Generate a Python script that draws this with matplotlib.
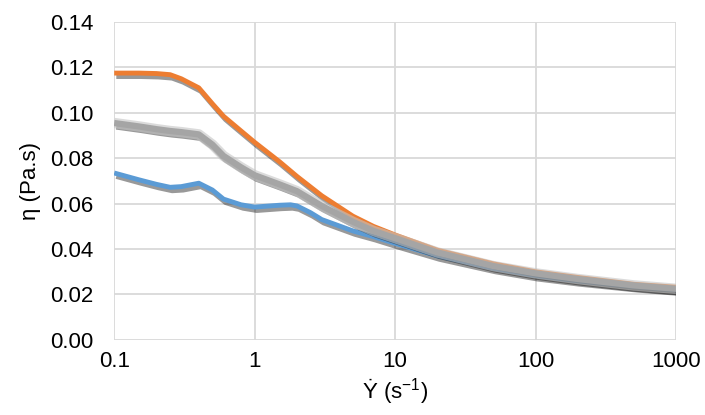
import matplotlib
matplotlib.use("Agg")
import matplotlib.pyplot as plt
import matplotlib.patheffects as pe
from matplotlib.ticker import FixedLocator, FormatStrFormatter

plt.rcParams["font.family"] = ["Liberation Sans", "DejaVu Sans"]
plt.rcParams["mathtext.fontset"] = "custom"
plt.rcParams["mathtext.rm"] = "Liberation Sans"

# ---- DATA ----
shear_a = [0.1, 0.15, 0.2, 0.25, 0.3, 0.4, 0.5, 0.6, 0.8, 1, 1.5, 2, 3, 5, 7, 10,
           20, 50, 100, 200, 500, 1000]
orange_visc = [0.1175, 0.1175, 0.1173, 0.1168, 0.1150, 0.1110, 0.1040, 0.0985,
               0.0920, 0.0870, 0.0785, 0.0720, 0.0635, 0.0545, 0.0500, 0.0462,
               0.0395, 0.0335, 0.0300, 0.0275, 0.0245, 0.0232]
gray_visc = [0.0955, 0.0940, 0.0928, 0.0920, 0.0915, 0.0905, 0.0860, 0.0810,
             0.0760, 0.0725, 0.0685, 0.0655, 0.0590, 0.0520, 0.0480, 0.0448,
             0.0385, 0.0325, 0.0293, 0.0268, 0.0240, 0.0225]
shear_b = [0.1, 0.15, 0.2, 0.25, 0.3, 0.4, 0.5, 0.6, 0.8, 1, 1.5, 1.8, 2, 2.5, 3,
           5, 7, 10, 20, 50, 100, 200, 500, 1000]
blue_visc = [0.0735, 0.0705, 0.0685, 0.0672, 0.0675, 0.0690, 0.0660, 0.0620,
             0.0595, 0.0585, 0.0593, 0.0595, 0.0590, 0.0560, 0.0530, 0.0480,
             0.0455, 0.0425, 0.0370, 0.0315, 0.0283, 0.0260, 0.0235, 0.0220]

x_ticks = [0.1, 1, 10, 100, 1000]
x_tick_labels = ["0.1", "1", "10", "100", "1000"]
y_ticks = [0.00, 0.02, 0.04, 0.06, 0.08, 0.10, 0.12, 0.14]

# ---- PLOT ----
fig = plt.figure(figsize=(7.05, 4.15), dpi=100)
ax = fig.add_axes([0.162, 0.181, 0.797, 0.766])

def shadow_fx(extra=None):
    fx = [pe.SimpleLineShadow(offset=(1.5, -2.5), shadow_color="black", alpha=0.4)]
    if extra:
        fx += extra
    return fx + [pe.Normal()]

ax.plot(shear_b, blue_visc, color="#5B9BD5", lw=3.5, solid_capstyle="butt",
        path_effects=shadow_fx(), zorder=3)
ax.plot(shear_a, orange_visc, color="#ED7D31", lw=3.5, solid_capstyle="butt",
        path_effects=shadow_fx(), zorder=4)
ax.plot(shear_a, gray_visc, color="#A5A5A5", lw=4.5, solid_capstyle="butt",
        path_effects=shadow_fx([pe.Stroke(linewidth=7.5, foreground="#C4C4C4", alpha=0.6)]),
        zorder=5)

ax.set_xscale("log")
ax.set_xlim(0.1, 1000)
ax.set_ylim(0, 0.14)
ax.xaxis.set_major_locator(FixedLocator(x_ticks))
ax.xaxis.set_minor_locator(FixedLocator([]))
ax.set_xticklabels(x_tick_labels)
ax.set_yticks(y_ticks)
ax.yaxis.set_major_formatter(FormatStrFormatter("%.2f"))

ax.grid(True, which="major", color="#D9D9D9", lw=1.3)
ax.set_axisbelow(True)
for s in ax.spines.values():
    s.set_visible(False)
ax.tick_params(length=0, labelsize=16, colors="black")
ax.tick_params(axis="x", pad=8)
ax.tick_params(axis="y", pad=15)

ax.set_xlabel(r"Ẏ (s$^{\mathregular{-1}}$)", fontsize=16, va="center")
ax.set_ylabel("η (Pa.s)", fontsize=16, va="center")
ax.xaxis.set_label_coords(0.5, -0.16)
ax.yaxis.set_label_coords(-0.149, 0.5)

plt.savefig("out.png", dpi=100)
